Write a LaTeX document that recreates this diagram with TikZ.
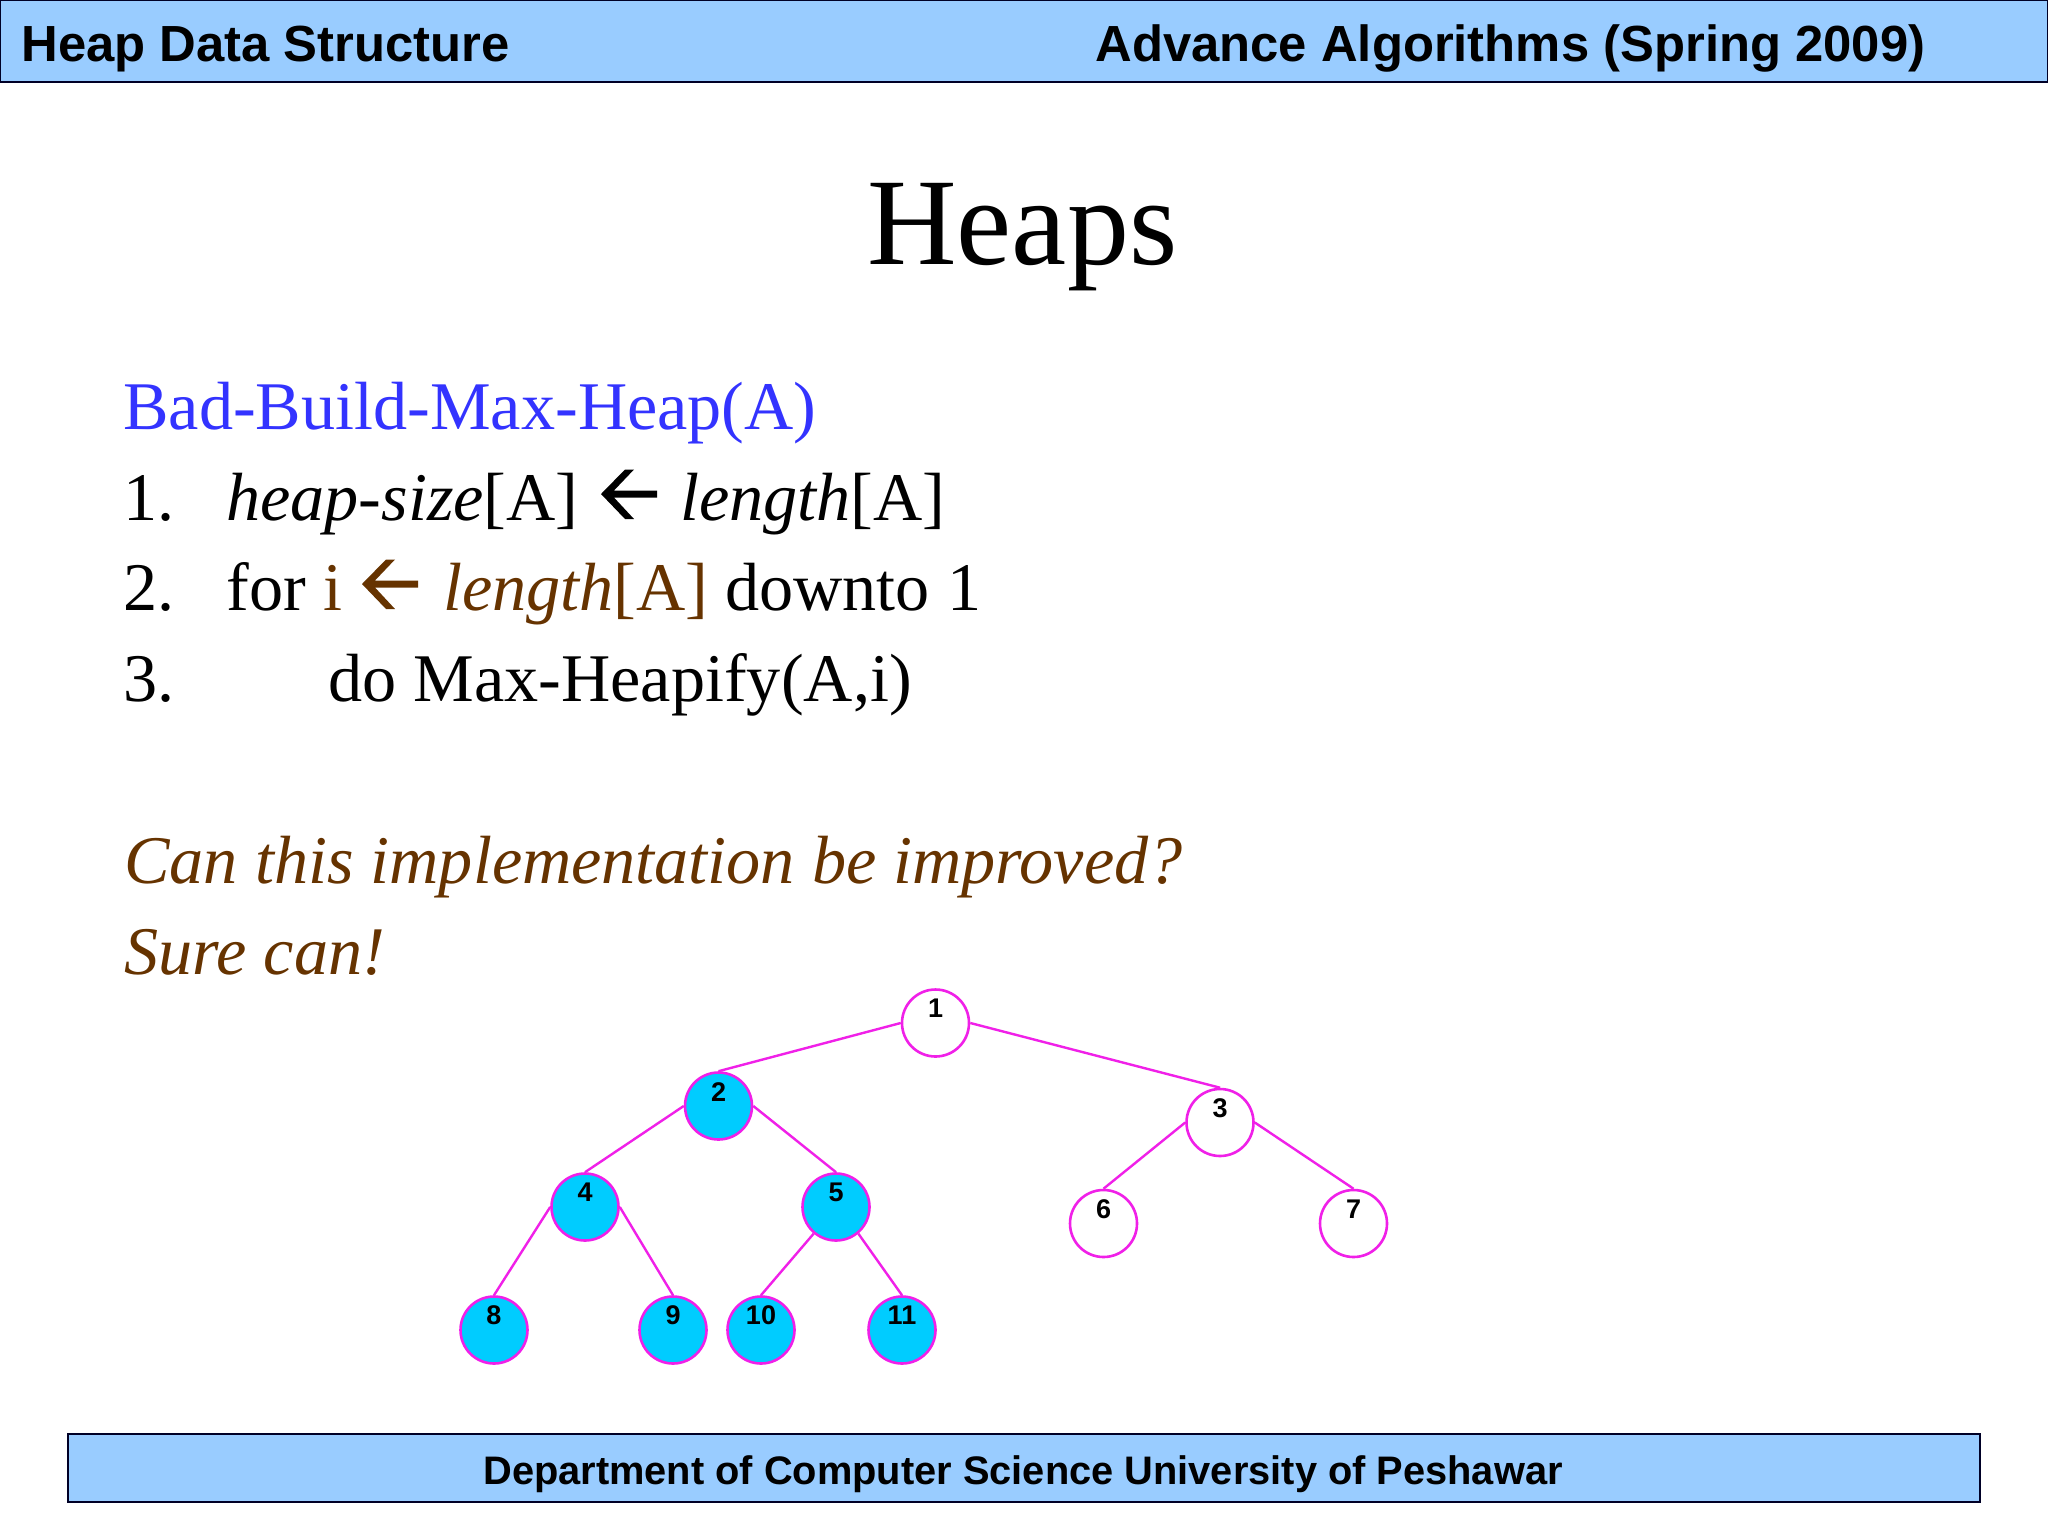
\documentclass[tikz,border=0pt]{standalone}
\usepackage{fontspec}
\setmainfont{Liberation Serif}
\newfontfamily\arialf{Liberation Sans}
\definecolor{barblue}{HTML}{99CCFF}
\definecolor{brownish}{HTML}{663300}
\definecolor{titleblue}{HTML}{3333FF}
\definecolor{heapcyan}{HTML}{00CCFF}
\definecolor{heapmag}{HTML}{F020E8}
\newcommand{\thickarrow}[2]{%
  \fill[#2,shift={(#1)}] (0,0) -- (24,-24.5) -- (33,-24.5) -- (13,-3.5) -- (56,-3.5) -- (56,3.5) -- (13,3.5) -- (33,25) -- (24,25) -- cycle;}
\tikzset{
  bar/.style={draw=black!85!blue,fill=barblue,line width=1pt},
  bartext/.style={anchor=base west,inner sep=0pt,font=\arialf\bfseries\fontsize{25.4}{30}\selectfont},
  foottext/.style={anchor=base west,inner sep=0pt,font=\arialf\bfseries\fontsize{19.9}{24}\selectfont},
  body/.style={anchor=base west,inner sep=0pt,font=\fontsize{34.1}{40}\selectfont},
  bodyit/.style={body,font=\itshape\fontsize{34.1}{40}\selectfont},
  heapnode/.style={circle,draw=heapmag,line width=1.3pt,minimum size=33.5pt,inner sep=0pt},
  filled/.style={heapnode,fill=heapcyan},
  empty/.style={heapnode,fill=white},
  numlabel/.style={inner sep=0pt,font=\arialf\bfseries\fontsize{13.5}{16}\selectfont},
  edge/.style={draw=heapmag,line width=1.2pt}
}
\begin{document}
\begin{tikzpicture}[x=0.5pt,y=-0.5pt]
\useasboundingbox (0,0) rectangle (2048,1536);
\fill[white] (0,0) rectangle (2048,1536);
% header and footer
\draw[bar] (0,0) rectangle (2048,82);
\draw[bar] (68,1434) rectangle (1980,1502);
\node[bartext] (hl) at (21,62) {Heap Data Structure};
\node[bartext] (hr) at (1095,62) {Advance Algorithms (Spring 2009)};
\node[foottext] (ft) at (483,1484) {Department of Computer Science University of Peshawar};
% title
\node[anchor=base west,inner sep=0pt,font=\fontsize{62}{70}\selectfont] (title) at (867,264) {Heaps};
% algorithm
\node[body,text=titleblue] (algo) at (123,429) {Bad-Build-Max-Heap(A)};
\node[body] (n1a) at (123,520) {1.};
\node[body] (n1b) at (226,520) {\textit{heap-size}[A]};
\thickarrow{601,494}{black}
\node[body] (n1c) at (680,520) {\textit{length}[A]};
\node[body] (n2a) at (123,610) {2.};
\node[body] (n2b) at (226,610) {for};
\node[body,text=brownish] (n2c) at (323,610) {i};
\thickarrow{362,584}{brownish}
\node[body,text=brownish] (n2d) at (443,610) {\textit{length}[A]};
\node[body] (n2e) at (725,610) {downto 1};
\node[body] (n3a) at (123,701) {3.};
\node[body] (n3b) at (328,701) {do Max-Heapify(A,i)};
\node[bodyit,text=brownish] (q1) at (124,883) {Can this implementation be improved?};
\node[bodyit,text=brownish] (q2) at (124,974) {Sure can!};
% heap
\node[empty]  (v1)  at (935.5,1023) {};
\node[filled] (v2)  at (718.5,1106) {};
\node[empty]  (v3)  at (1220,1122.5) {};
\node[filled] (v4)  at (585,1207) {};
\node[filled] (v5)  at (836,1207) {};
\node[empty]  (v6)  at (1103.5,1223.5) {};
\node[empty]  (v7)  at (1353.5,1223.5) {};
\node[filled] (v8)  at (494,1330) {};
\node[filled] (v9)  at (673,1330) {};
\node[filled] (v10) at (761,1330) {};
\node[filled] (v11) at (902,1330) {};
\draw[edge] (v1.west) -- (v2.north);
\draw[edge] (v1.east) -- (v3.north);
\draw[edge] (v2.west) -- (v4.north);
\draw[edge] (v2.east) -- (v5.north);
\draw[edge] (v3.west) -- (v6.north);
\draw[edge] (v3.east) -- (v7.north);
\draw[edge] (v4.west) -- (v8.north);
\draw[edge] (v4.east) -- (v9.north);
\draw[edge] (v5.-130) -- (v10.north);
\draw[edge] (v5.-50) -- (v11.north);
\foreach \i in {1,...,11}{
  \node[numlabel] (t\i) at ([yshift=7.2pt]v\i.center) {\i};
}
\end{tikzpicture}
\end{document}
